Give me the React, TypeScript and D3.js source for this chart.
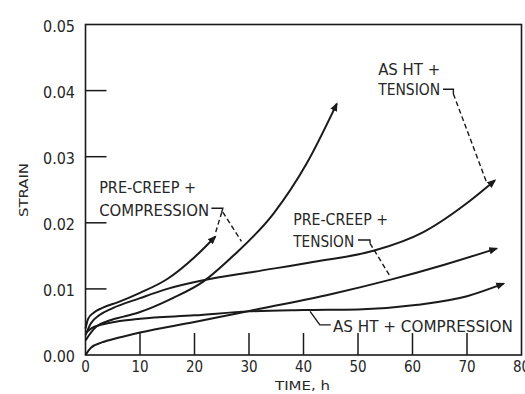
import React from "react";
import * as d3 from "d3";

// ---- data (time in h, strain) ----
const xTicks = [0, 10, 20, 30, 40, 50, 60, 70, 80];
const yTicks = [0, 0.01, 0.02, 0.03, 0.04, 0.05];
const yTickLabels = ["0.00", "0.01", "0.02", "0.03", "0.04", "0.05"];

// Pre-creep + compression (short test)
const preCompShortT = [0, 0.5, 1.5, 3, 6, 10, 15, 20, 23.8];
const preCompShortS = [0.004, 0.0055, 0.0064, 0.0071, 0.008, 0.0094, 0.0115, 0.0148, 0.0179];
// Pre-creep + compression (long test)
const preCompLongT = [0, 1, 2, 4, 7, 10, 16, 21.6, 27.1, 34.5, 40.6, 46.1];
const preCompLongS = [0.0022, 0.0034, 0.0043, 0.0051, 0.0058, 0.0065, 0.0086, 0.0111, 0.015, 0.0214, 0.029, 0.038];
// As HT + tension
const asTenT = [0, 1, 2.5, 5, 10, 15, 21.6, 31, 42, 53, 62, 70.5, 75.1];
const asTenS = [0.003, 0.0048, 0.006, 0.0071, 0.0086, 0.01, 0.0113, 0.0126, 0.0141, 0.0158, 0.0186, 0.0233, 0.0264];
// Pre-creep + tension
const preTenT = [0, 1, 3, 6, 10, 20, 32, 45, 56, 66, 75.4];
const preTenS = [0, 0.0011, 0.0019, 0.0026, 0.0034, 0.005, 0.007, 0.0092, 0.0114, 0.0137, 0.0161];
// As HT + compression
const asCompT = [0, 1, 3, 6, 10, 20, 30, 40, 50, 61, 70, 76.7];
const asCompS = [0.0033, 0.004, 0.0046, 0.0051, 0.0055, 0.006, 0.0066, 0.0068, 0.0069, 0.0076, 0.0089, 0.0108];

const series = [
  { t: preCompShortT, s: preCompShortS },
  { t: preCompLongT, s: preCompLongS },
  { t: asTenT, s: asTenS },
  { t: preTenT, s: preTenS },
  { t: asCompT, s: asCompS },
];

// annotation labels (anchor in data units)
const labels = [
  { lines: ["PRE-CREEP +", "COMPRESSION"], t: 2.5, s: [0.0245, 0.021], len: [97, 110] },
  { lines: ["AS HT +", "TENSION"], t: 53.7, s: [0.0424, 0.0393], len: [62, 62] },
  { lines: ["PRE-CREEP +", "TENSION"], t: 38.1, s: [0.0197, 0.0164], len: [95, 61] },
  { lines: ["AS HT + COMPRESSION"], t: 45.4, s: [0.0035], len: [180] },
];

// leader lines in data units: [t, s] points
const hooks = [
  [[23.1, 0.0222], [25.2, 0.0222], [25.0, 0.0216]],
  [[65.6, 0.0402], [67.5, 0.0402], [67.5, 0.0395]],
  [[50.0, 0.0174], [52.2, 0.0174], [52.2, 0.0169]],
];
const dashed = [
  [[25.0, 0.0216], [23.9, 0.0186]],
  [[25.2, 0.0216], [28.6, 0.0172]],
  [[67.5, 0.0395], [73.6, 0.0261]],
  [[52.2, 0.0169], [55.9, 0.0119]],
];
const solidLeader = [[41.2, 0.0066], [43.0, 0.00455], [45.0, 0.00455]];

const W = 525;
const H = 394;
const FONT = "'DejaVu Sans Condensed', 'Liberation Sans Narrow', sans-serif";
const INK = "#1a1a1a";
const TXT = "#262626";

export default function App() {
  const x = d3.scaleLinear().domain([0, 80]).range([85.5, 521.5]);
  const y = d3.scaleLinear().domain([0, 0.05]).range([355, 24.5]);

  const line = d3
    .line<[number, number]>()
    .x((d) => x(d[0]))
    .y((d) => y(d[1]))
    .curve(d3.curveMonotoneX);
  const straight = d3
    .line<number[]>()
    .x((d) => x(d[0]))
    .y((d) => y(d[1]));

  return (
    <svg
      width={W}
      height={H}
      style={{ position: "absolute", left: 0, top: 0, background: "#fff" }}
    >
      <defs>
        <marker
          id="arrow"
          viewBox="0 0 10 10"
          refX="8"
          refY="5"
          markerWidth="9"
          markerHeight="9"
          markerUnits="userSpaceOnUse"
          orient="auto"
        >
          <path d="M0,1 L10,5 L0,9 Z" fill={INK} />
        </marker>
      </defs>
      <rect width={W} height={H} fill="#fff" />

      {/* frame */}
      <rect
        x={x(0)}
        y={y(0.05)}
        width={x(80) - x(0)}
        height={y(0) - y(0.05)}
        fill="none"
        stroke={INK}
        strokeWidth={1.6}
      />

      {/* ticks */}
      {yTicks.slice(1, -1).map((v) => (
        <line key={"yt" + v} x1={x(0)} x2={x(0) + 21} y1={y(v)} y2={y(v)} stroke={INK} strokeWidth={1.5} />
      ))}
      {xTicks.slice(1, -1).map((v) => (
        <line key={"xt" + v} x1={x(v)} x2={x(v)} y1={y(0)} y2={y(0) - 22} stroke={INK} strokeWidth={1.5} />
      ))}

      {/* tick labels */}
      {yTicks.map((v, i) => (
        <text
          key={"yl" + v}
          x={43}
          y={y(v) + 7}
          fontFamily={FONT}
          fontSize={16}
          fill={TXT}
          textLength={32}
          lengthAdjust="spacingAndGlyphs"
        >
          {yTickLabels[i]}
        </text>
      ))}
      {xTicks.map((v) => (
        <text
          key={"xl" + v}
          x={x(v)}
          y={372}
          fontFamily={FONT}
          fontSize={15}
          fill={TXT}
          textAnchor="middle"
        >
          {String(v)}
        </text>
      ))}

      {/* axis titles */}
      <text
        transform={`translate(27.5,190) rotate(-90)`}
        fontFamily={FONT}
        fontSize={12}
        fill={TXT}
        textAnchor="middle"
        textLength={54}
        lengthAdjust="spacingAndGlyphs"
      >
        STRAIN
      </text>
      <text
        x={275}
        y={390}
        fontFamily={FONT}
        fontSize={13}
        fill={TXT}
        textLength={55}
        lengthAdjust="spacingAndGlyphs"
      >
        TIME, h
      </text>

      {/* curves */}
      {series.map((sr, i) => (
        <path
          key={"c" + i}
          d={line(sr.t.map((t, j) => [t, sr.s[j]] as [number, number])) || ""}
          fill="none"
          stroke={INK}
          strokeWidth={2}
          markerEnd="url(#arrow)"
        />
      ))}

      {/* annotation labels */}
      {labels.map((lb, i) =>
        lb.lines.map((txt, k) => (
          <text
            key={"lb" + i + "_" + k}
            x={x(lb.t)}
            y={y(lb.s[k])}
            fontFamily={FONT}
            fontSize={16}
            fill={TXT}
            textLength={lb.len[k]}
            lengthAdjust="spacingAndGlyphs"
          >
            {txt}
          </text>
        ))
      )}

      {/* leaders */}
      {hooks.map((h, i) => (
        <path key={"h" + i} d={straight(h) || ""} fill="none" stroke={INK} strokeWidth={1.4} />
      ))}
      {dashed.map((h, i) => (
        <path
          key={"d" + i}
          d={straight(h) || ""}
          fill="none"
          stroke={INK}
          strokeWidth={1.4}
          strokeDasharray="5,3"
        />
      ))}
      <path d={straight(solidLeader) || ""} fill="none" stroke={INK} strokeWidth={1.4} />
    </svg>
  );
}
